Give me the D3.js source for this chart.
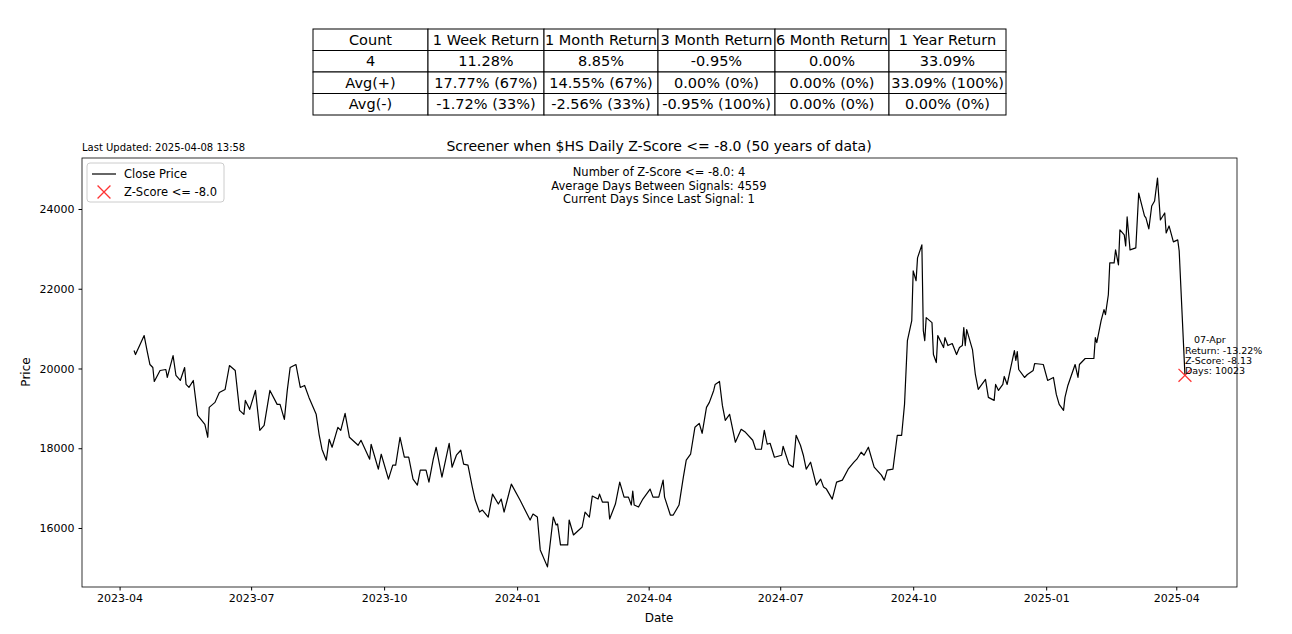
<!DOCTYPE html>
<html>
<head>
<meta charset="utf-8">
<script src="https://cdn.jsdelivr.net/npm/d3@7"></script>
<style>
  body { margin: 0; background: #fff; font-family: "DejaVu Sans", sans-serif; }
</style>
</head>
<body>
<svg id="chart" width="1292" height="634"></svg>
<script>
// Stats table
const tableHeader = ["Count", "1 Week Return", "1 Month Return", "3 Month Return", "6 Month Return", "1 Year Return"];
const tableRows = [
  ["4", "11.28%", "8.85%", "-0.95%", "0.00%", "33.09%"],
  ["Avg(+)", "17.77% (67%)", "14.55% (67%)", "0.00% (0%)", "0.00% (0%)", "33.09% (100%)"],
  ["Avg(-)", "-1.72% (33%)", "-2.56% (33%)", "-0.95% (100%)", "0.00% (0%)", "0.00% (0%)"]
];

// Close price: days since 2023-04-01 and close
const dayOffsets = [10,11,17,19,21,23,24,28,32,33,37,39,42,45,46,48,51,54,59,61,62,66,69,73,76,80,83,86,87,90,94,97,100,104,109,111,114,116,118,122,125,128,131,136,138,140,143,145,147,151,153,156,159,165,167,173,174,179,181,186,189,191,194,197,200,203,206,208,212,214,217,219,223,228,230,233,236,238,241,244,246,249,251,255,258,262,264,266,271,277,284,286,289,291,296,300,302,303,305,310,311,314,320,322,325,327,331,332,334,338,339,343,346,349,352,354,355,356,359,362,367,369,373,376,377,381,383,387,390,392,395,398,401,403,406,408,411,412,415,417,419,422,426,430,433,438,440,444,446,448,450,453,458,459,463,466,468,471,473,475,478,482,485,487,489,493,496,500,504,508,510,513,515,518,522,527,529,531,535,538,541,543,545,548,549,551,552,555,556,557,558,562,563,565,566,570,571,573,576,579,581,583,584,585,586,590,592,594,599,601,605,606,608,611,612,614,619,620,621,622,626,628,632,633,639,642,646,648,650,653,654,656,661,663,664,668,674,675,676,679,681,682,684,685,688,689,691,692,695,696,697,699,703,705,709,710,712,714,716,718,720,723,724,726,729,732,733,737];
const closes = [20450,20350,20825,20450,20100,20025,19675,19950,19975,19775,20325,19825,19700,20025,19600,19525,19700,18825,18600,18275,19025,19150,19400,19475,20075,19950,18950,18850,19200,18975,19450,18450,18575,19450,19100,19100,18725,19450,20025,20100,19525,19575,19275,18850,18350,17975,17700,18225,18025,18525,18450,18875,18275,18075,18200,17725,18100,17475,17850,17225,17575,17575,18275,17775,17775,17225,17075,17450,17450,17150,17725,18025,17275,18125,17525,17825,17950,17600,17575,17025,16700,16400,16450,16275,16850,16600,16725,16400,17100,16700,16200,16350,16275,15450,15025,16275,16075,16100,15575,15575,16200,15825,16025,16400,16275,16800,16725,16850,16650,16650,16225,16600,17150,16775,16775,16575,16925,16575,16525,16725,16975,16775,16775,17200,16775,16325,16325,16575,17275,17700,17850,18525,18625,18375,19025,19150,19450,19600,19675,19075,18700,18850,18150,18475,18400,18200,17975,17975,18450,18100,18125,17775,17825,18050,17600,17525,18325,18075,17825,17475,17650,17075,17225,17025,16975,16725,17150,17200,17475,17650,17725,17900,17825,18025,17525,17325,17200,17450,17475,18325,18325,19100,20700,21200,22450,22200,22775,23100,20950,20700,21275,21150,20350,20150,20825,20525,20775,20575,20625,20350,20525,20575,21025,20575,20975,20475,19850,19475,19725,19275,19200,19600,19450,19600,19800,19600,20450,20200,20425,19975,19775,19850,19950,20125,20100,19700,19775,19350,19100,18950,19275,19575,20100,19775,20100,20250,20250,20775,20650,21200,21475,21350,21850,22650,22650,22975,22600,23475,23350,23075,23800,22975,23025,24400,23825,23775,23500,24075,24200,24775,23725,23900,23400,23575,23175,23225,22950,19828];

// Signal
const signalDays = [737];
const signalCloses = [19828];
const signalNotes = ["07-Apr", "Return: -13.22%", "Z-Score: -8.13", "Days: 10023"];

const statLines = ["Number of Z-Score <= -8.0: 4", "Average Days Between Signals: 4559", "Current Days Since Last Signal: 1"];
const yTicks = [16000, 18000, 20000, 22000, 24000];

const base = new Date(2023, 3, 1);
const toDate = d => d3.timeDay.offset(base, d);
const series = dayOffsets.map((d, i) => ({ date: toDate(d), close: closes[i] }));
const signals = signalDays.map((d, i) => ({ date: toDate(d), close: signalCloses[i] }));

const svg = d3.select("#chart");
const font = "DejaVu Sans, sans-serif";

// ---- table ----
const colX = [313, 428, 544, 658, 775, 889, 1006];
const rowY = [29, 50.5, 72, 93.5, 115];
const tbl = svg.append("g");
[tableHeader, ...tableRows].forEach((row, r) => {
  row.forEach((txt, c) => {
    tbl.append("rect")
      .attr("x", colX[c]).attr("y", rowY[r])
      .attr("width", colX[c + 1] - colX[c]).attr("height", rowY[r + 1] - rowY[r])
      .attr("fill", "#fff").attr("stroke", "#000").attr("stroke-width", 1);
    tbl.append("text")
      .attr("x", (colX[c] + colX[c + 1]) / 2).attr("y", (rowY[r] + rowY[r + 1]) / 2 + 5)
      .attr("text-anchor", "middle").attr("font-family", font).attr("font-size", 14.5)
      .text(txt);
  });
});

// ---- plot ----
const m = { left: 82, right: 1237, top: 158, bottom: 587 };
const x = d3.scaleTime()
  .domain([toDate(-25.6), toDate(773.7)])
  .range([m.left, m.right]);
const y = d3.scaleLinear()
  .domain([14520, 25279])
  .range([m.bottom, m.top]);

svg.append("text").attr("x", 82).attr("y", 151)
  .attr("font-family", font).attr("font-size", 10).text("Last Updated: 2025-04-08 13:58");
svg.append("text").attr("x", 659).attr("y", 151).attr("text-anchor", "middle")
  .attr("font-family", font).attr("font-size", 14)
  .text("Screener when $HS Daily Z-Score <= -8.0 (50 years of data)");

const xAxis = d3.axisBottom(x)
  .tickValues(d3.timeMonth.every(3).range(new Date(2023, 3, 1), new Date(2025, 4, 1)))
  .tickFormat(d3.timeFormat("%Y-%m")).tickSizeOuter(0).tickSize(3.5).tickPadding(4);
const yAxis = d3.axisLeft(y).tickValues(yTicks).tickFormat(d3.format("d"))
  .tickSizeOuter(0).tickSize(3.5).tickPadding(4);

svg.append("g").attr("transform", `translate(0,${m.bottom})`).call(xAxis)
  .call(g => g.select(".domain").remove())
  .selectAll("text").attr("font-family", font).attr("font-size", 11).attr("fill", "#000");
svg.append("g").attr("transform", `translate(${m.left},0)`).call(yAxis)
  .call(g => g.select(".domain").remove())
  .selectAll("text").attr("font-family", font).attr("font-size", 11).attr("fill", "#000");

svg.append("rect").attr("x", m.left).attr("y", m.top)
  .attr("width", m.right - m.left).attr("height", m.bottom - m.top)
  .attr("fill", "none").attr("stroke", "#000").attr("stroke-width", 0.8);

svg.append("text").attr("x", 659).attr("y", 622).attr("text-anchor", "middle")
  .attr("font-family", font).attr("font-size", 12).text("Date");
svg.append("text").attr("transform", "translate(30,372) rotate(-90)").attr("text-anchor", "middle")
  .attr("font-family", font).attr("font-size", 12).text("Price");

// line
svg.append("path").datum(series)
  .attr("fill", "none").attr("stroke", "#000").attr("stroke-width", 1.2)
  .attr("stroke-linejoin", "round")
  .attr("d", d3.line().x(d => x(d.date)).y(d => y(d.close)));

// signal markers
const sym = d3.symbol().type(d3.symbolX).size(110);
svg.selectAll(".sig").data(signals).join("path")
  .attr("transform", d => `translate(${x(d.date)},${y(d.close)})`)
  .attr("d", sym).attr("fill", "none").attr("stroke", "#ff3333").attr("stroke-width", 1.3);

signals.forEach(d => {
  const t = svg.append("text").attr("font-family", font).attr("font-size", 9.5).attr("fill", "#000");
  signalNotes.forEach((line, i) => {
    t.append("tspan").attr("x", x(d.date) + (i === 0 ? 9 : 0)).attr("y", y(d.close) - 32 + i * 10.2).text(line);
  });
});

// stats text
statLines.forEach((s, i) => {
  svg.append("text").attr("x", 659).attr("y", 176 + i * 13.5).attr("text-anchor", "middle")
    .attr("font-family", font).attr("font-size", 11.5).text(s);
});

// legend
const lg = svg.append("g");
lg.append("rect").attr("x", 87).attr("y", 163).attr("width", 137).attr("height", 39).attr("rx", 3)
  .attr("fill", "#fff").attr("stroke", "#ccc");
lg.append("line").attr("x1", 92).attr("x2", 116).attr("y1", 174).attr("y2", 174)
  .attr("stroke", "#000").attr("stroke-width", 1.2);
lg.append("path").attr("transform", "translate(104,192)").attr("d", sym)
  .attr("fill", "none").attr("stroke", "#ff3333").attr("stroke-width", 1.3);
lg.append("text").attr("x", 124).attr("y", 178).attr("font-family", font).attr("font-size", 11.5).text("Close Price");
lg.append("text").attr("x", 124).attr("y", 196).attr("font-family", font).attr("font-size", 11.5).text("Z-Score <= -8.0");
</script>
</body>
</html>
